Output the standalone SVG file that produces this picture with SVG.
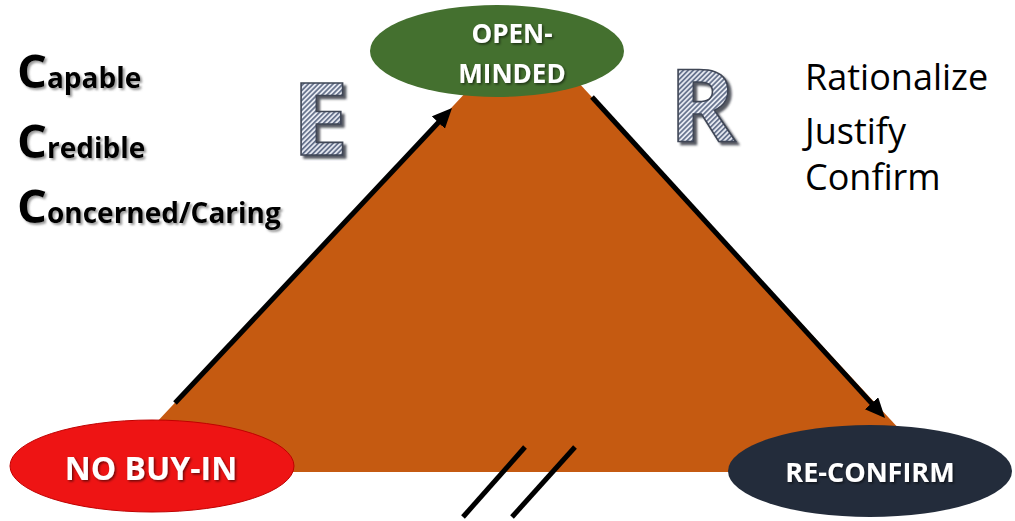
<svg xmlns="http://www.w3.org/2000/svg" width="1015" height="521" viewBox="0 0 1015 521">
  <style>
    .node-label { font-family: "Open Sans", "Liberation Sans", sans-serif; font-weight: 700; fill: #ffffff; text-anchor: middle; }
    .c-text { font-family: "Open Sans", "Liberation Sans", sans-serif; font-weight: 700; fill: #000000; }
    .r-text { font-family: "Open Sans", "Liberation Sans", sans-serif; font-weight: 400; fill: #000000; font-size: 36px; }
    .big-letter { font-family: "Open Sans", "Liberation Sans", sans-serif; font-weight: 700; font-size: 101px; fill: url(#hatch); stroke: #3f4656; stroke-width: 1.6; }
    .conn { stroke: #000000; stroke-width: 5; fill: none; }
  </style>
  <defs>
    <pattern id="hatch" patternUnits="userSpaceOnUse" width="3.5" height="3.5" patternTransform="rotate(45)">
      <rect width="3.5" height="3.5" fill="#e6e9f1"/>
      <rect width="1.7" height="3.5" fill="#65718c"/>
    </pattern>
    <marker id="arrow" markerUnits="userSpaceOnUse" markerWidth="22" markerHeight="20" refX="9" refY="9" orient="auto">
      <path d="M0,0 L20,9 L0,18 z" fill="#000000"/>
    </marker>
    <filter id="txtShadow" x="-10%" y="-20%" width="130%" height="150%">
      <feDropShadow dx="1.5" dy="1.5" stdDeviation="0.8" flood-color="#000000" flood-opacity="0.55"/>
    </filter>
    <filter id="letterShadow" x="-20%" y="-20%" width="150%" height="150%">
      <feDropShadow dx="3" dy="3" stdDeviation="1" flood-color="#2a2f3a" flood-opacity="0.8"/>
    </filter>
    <filter id="greyShadow" x="-10%" y="-20%" width="130%" height="150%">
      <feDropShadow dx="2" dy="2" stdDeviation="1.2" flood-color="#555555" flood-opacity="0.6"/>
    </filter>
  </defs>

  <rect width="1015" height="521" fill="#ffffff"/>

  <g id="triangle">
    <polygon points="527,27 110,472 939,472" fill="#c55a11"/>
  </g>

  <g id="connectors">
    <line class="conn" x1="175" y1="403" x2="444.5" y2="116" marker-end="url(#arrow)"/>
    <line class="conn" x1="592" y1="97" x2="877.6" y2="409.9" marker-end="url(#arrow)"/>
    <line class="conn" x1="525" y1="447" x2="463" y2="517"/>
    <line class="conn" x1="575" y1="447" x2="512" y2="517"/>
  </g>

  <g id="node-open-minded">
    <ellipse cx="497" cy="51" rx="127" ry="46" fill="#44702f"/>
    <text class="node-label" font-size="26" x="512" y="43" filter="url(#txtShadow)">OPEN-</text>
    <text class="node-label" font-size="26" x="512" y="83" filter="url(#txtShadow)">MINDED</text>
  </g>

  <g id="node-no-buy-in">
    <ellipse cx="152" cy="466" rx="142" ry="46" fill="#ee1414" stroke="#c00000" stroke-width="1"/>
    <text class="node-label" font-size="32" x="151" y="480" filter="url(#txtShadow)">NO BUY-IN</text>
  </g>

  <g id="node-re-confirm">
    <ellipse cx="870" cy="471" rx="142" ry="46" fill="#232c3b"/>
    <text class="node-label" font-size="27" x="870" y="482" filter="url(#txtShadow)">RE-CONFIRM</text>
  </g>

  <g id="letter-e">
    <text class="big-letter" x="292" y="155" filter="url(#letterShadow)">E</text>
  </g>
  <g id="letter-r">
    <text class="big-letter" x="669" y="142" filter="url(#letterShadow)">R</text>
  </g>

  <g id="c-list" filter="url(#greyShadow)">
    <text class="c-text" x="17" y="88"><tspan font-size="47">C</tspan><tspan font-size="28">apable</tspan></text>
    <text class="c-text" x="17" y="158"><tspan font-size="47">C</tspan><tspan font-size="28">redible</tspan></text>
    <text class="c-text" x="17" y="223"><tspan font-size="47">C</tspan><tspan font-size="28">oncerned/Caring</tspan></text>
  </g>

  <g id="r-list">
    <text class="r-text" x="805" y="90">Rationalize</text>
    <text class="r-text" x="805" y="144">Justify</text>
    <text class="r-text" x="805" y="190">Confirm</text>
  </g>
</svg>
